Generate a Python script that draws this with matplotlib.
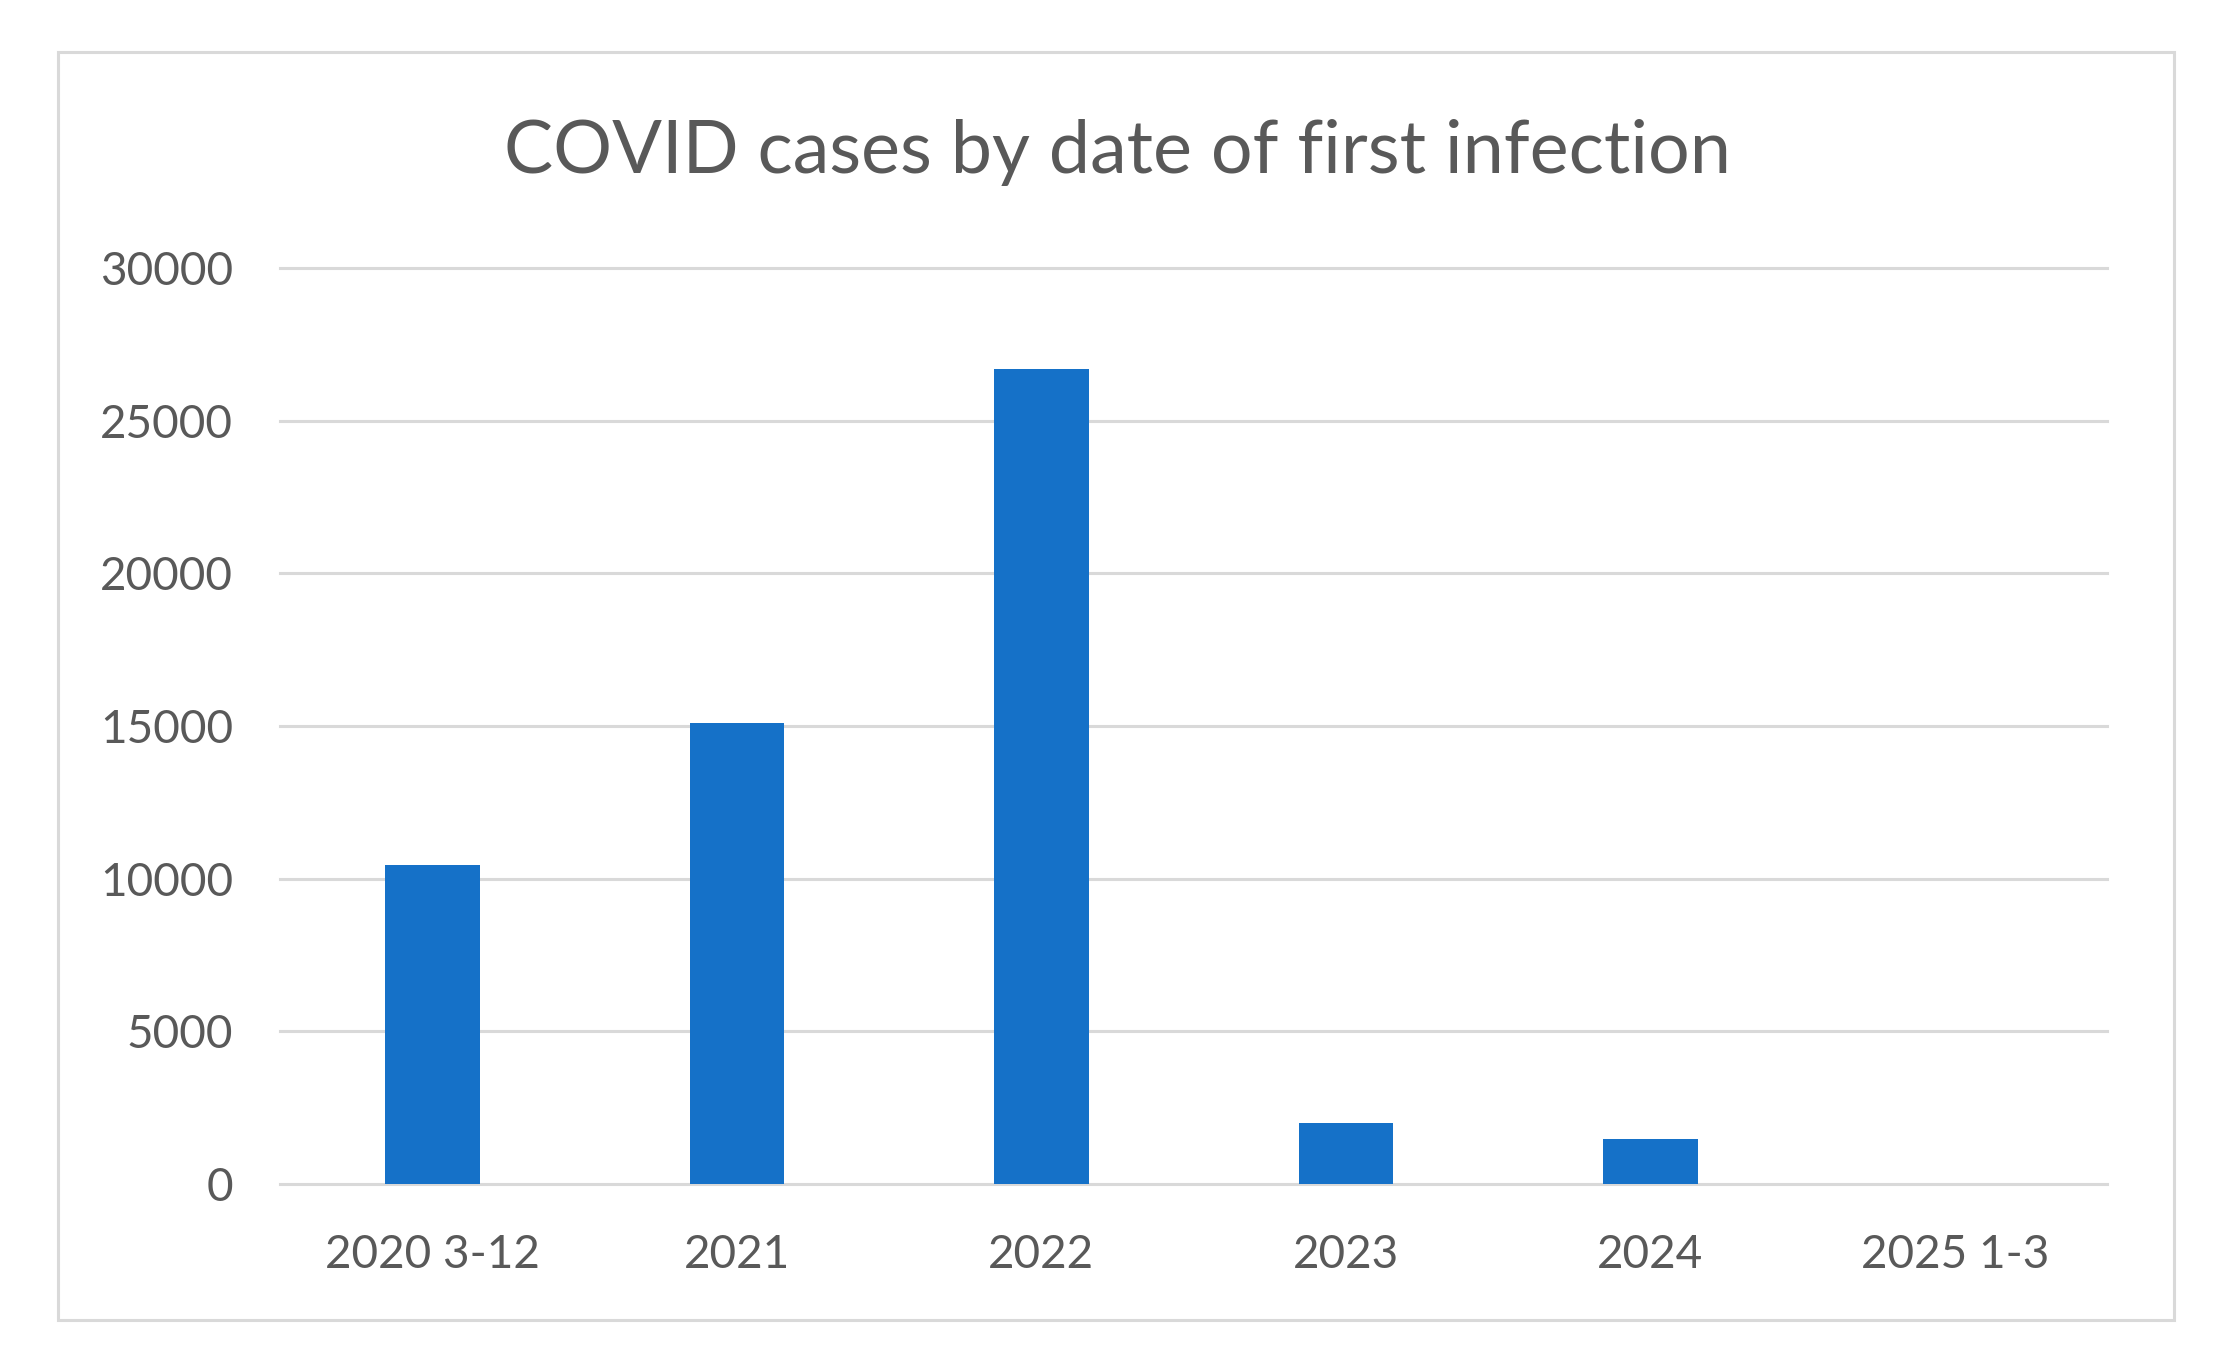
import matplotlib
matplotlib.use("Agg")
import matplotlib.pyplot as plt
from matplotlib.patches import Rectangle

categories = ["2020 3-12", "2021", "2022", "2023", "2024", "2025 1-3"]
cases = [10450, 15100, 26700, 2000, 1480, 0]
yticks = [0, 5000, 10000, 15000, 20000, 25000, 30000]

plt.rcParams['font.family'] = ['Lato', 'DejaVu Sans']
text_color = '#595959'
grid_color = '#D9D9D9'
bar_color = '#1571C8'

fig = plt.figure(figsize=(22.21, 13.63), dpi=100)
fig.patch.set_facecolor('white')

# outer chart border like an Excel chart area
fig.patches.append(Rectangle((0.0261, 0.0315), 0.9527, 0.9303, transform=fig.transFigure,
                             fill=False, edgecolor=grid_color, linewidth=2.2))

ax = fig.add_axes([0.1261, 0.1313, 0.8226, 0.6721])
x = list(range(len(categories)))
ax.bar(x, cases, width=0.31, color=bar_color, zorder=3)

ax.set_xlim(-0.5, len(categories) - 0.5)
ax.set_ylim(0, 30000)
ax.set_yticks(yticks)
ax.set_yticklabels([str(v) for v in yticks])
ax.set_xticks(x)
ax.set_xticklabels(categories)

for spine in ax.spines.values():
    spine.set_visible(False)

ax.grid(axis='y', color=grid_color, linewidth=2.2, zorder=0)
for line in ax.get_ygridlines():
    line.set_clip_on(False)

ax.tick_params(axis='both', length=0, labelsize=33, colors=text_color)
ax.tick_params(axis='y', pad=34)
ax.tick_params(axis='x', pad=36)

fig.text(0.503, 0.888, "COVID cases by date of first infection", ha='center', va='center',
         fontsize=53, color=text_color)

fig.savefig("out.png", dpi=100)
